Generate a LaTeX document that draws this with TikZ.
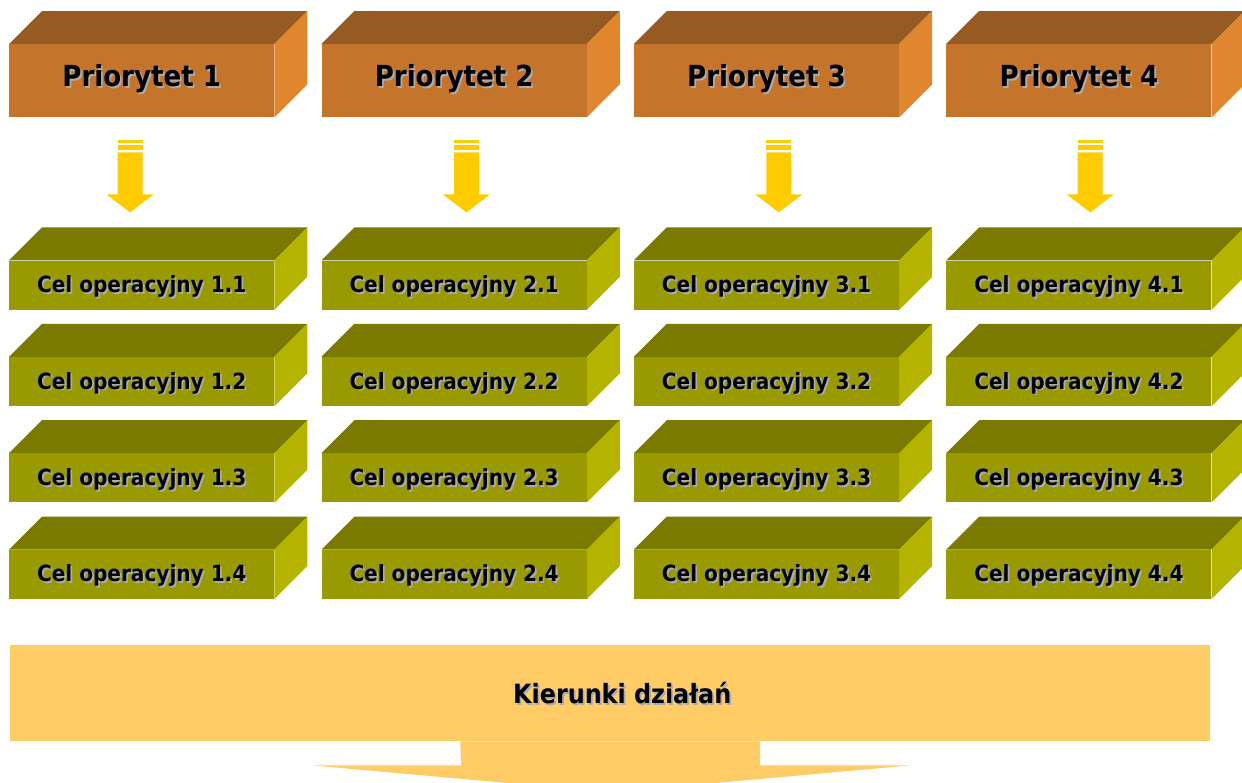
\documentclass[tikz,border=0pt]{standalone}
\usepackage{fontspec}
\usepackage{xcolor}
\usepackage{tikz}
\usetikzlibrary{positioning, calc}

\newfontfamily\boxfont{DejaVu Sans}[FakeStretch=0.9]

\definecolor{prioFront}{HTML}{C5752B}
\definecolor{prioTop}{HTML}{965B22}
\definecolor{prioSide}{HTML}{E0862F}
\definecolor{celFront}{HTML}{999900}
\definecolor{celTop}{HTML}{7A7A00}
\definecolor{celSide}{HTML}{B3B300}
\definecolor{arrowYellow}{HTML}{FFCC00}
\definecolor{kierFill}{HTML}{FFCC66}
\definecolor{shadowGray}{HTML}{ABABAB}

% text with a soft grey shadow
\newcommand{\shadowtxt}[1]{\makebox[0pt][l]{\hspace{1.8pt}\raisebox{-1.8pt}{\textcolor{shadowGray}{#1}}}#1}

\begin{document}
\begin{tikzpicture}[
    x=1pt, y=-1pt,
    cube/.style n args={3}{rectangle, fill=#1, inner sep=0pt, minimum width=265pt,
        append after command={\pgfextra{
            \fill[#2] (\tikzlastnode.north west) -- ([shift={(33,-33)}]\tikzlastnode.north west)
                -- ([shift={(33,-33)}]\tikzlastnode.north east) -- (\tikzlastnode.north east) -- cycle;
            \fill[#3] (\tikzlastnode.north east) -- ([shift={(33,-33)}]\tikzlastnode.north east)
                -- ([shift={(33,-33)}]\tikzlastnode.south east) -- (\tikzlastnode.south east) -- cycle;}}},
    prio/.style={cube={prioFront}{prioTop}{prioSide}, minimum height=73pt, text height=20pt, text depth=9pt,
        font=\boxfont\bfseries\fontsize{29}{29}\selectfont},
    cel/.style={cube={celFront}{celTop}{celSide}, minimum height=49pt, text height=16pt, text depth=1pt,
        font=\boxfont\bfseries\fontsize{22.3}{22.3}\selectfont},
    kier/.style={rectangle, fill=kierFill, inner sep=0pt, minimum width=1200pt, minimum height=96pt},
    kiertext/.style={inner sep=0pt, text height=20pt, text depth=0pt, xshift=12pt,
        font=\boxfont\bfseries\fontsize{26.5}{26.5}\selectfont},
    downarr/.pic={
        \fill[arrowYellow] (-12.5,0) rectangle (12.5,2.7);
        \fill[arrowYellow] (-12.5,5) rectangle (12.5,9.3);
        \fill[arrowYellow] (-12.5,12) -- (12.5,12) -- (12.5,54) -- (23.5,54) -- (0,72)
            -- (-23.5,54) -- (-12.5,54) -- cycle;
    }
]
    \useasboundingbox (0,0) rectangle (1242,782);

    % --- Priorities ---
    \node[prio, anchor=north west] (p1) at (9,44) {\shadowtxt{Priorytet 1}};
    \node[prio, right=47pt of p1] (p2) {\shadowtxt{Priorytet 2}};
    \node[prio, right=47pt of p2] (p3) {\shadowtxt{Priorytet 3}};
    \node[prio, right=47pt of p3] (p4) {\shadowtxt{Priorytet 4}};

    % --- Arrows ---
    \pic at ($(p1.south west)+(121,23)$) {downarr};
    \pic at ($(p2.south west)+(145,23)$) {downarr};
    \pic at ($(p3.south west)+(145,23)$) {downarr};
    \pic at ($(p4.south west)+(144,23)$) {downarr};

    % --- Operational goals ---
    \node[cel, below=143pt of p1] (c11) {\shadowtxt{Cel operacyjny 1.1}};
    \node[cel, below=47pt of c11] (c12) {\shadowtxt{Cel operacyjny 1.2}};
    \node[cel, below=47pt of c12] (c13) {\shadowtxt{Cel operacyjny 1.3}};
    \node[cel, below=47pt of c13] (c14) {\shadowtxt{Cel operacyjny 1.4}};

    \node[cel, below=143pt of p2] (c21) {\shadowtxt{Cel operacyjny 2.1}};
    \node[cel, below=47pt of c21] (c22) {\shadowtxt{Cel operacyjny 2.2}};
    \node[cel, below=47pt of c22] (c23) {\shadowtxt{Cel operacyjny 2.3}};
    \node[cel, below=47pt of c23] (c24) {\shadowtxt{Cel operacyjny 2.4}};

    \node[cel, below=143pt of p3] (c31) {\shadowtxt{Cel operacyjny 3.1}};
    \node[cel, below=47pt of c31] (c32) {\shadowtxt{Cel operacyjny 3.2}};
    \node[cel, below=47pt of c32] (c33) {\shadowtxt{Cel operacyjny 3.3}};
    \node[cel, below=47pt of c33] (c34) {\shadowtxt{Cel operacyjny 3.4}};

    \node[cel, below=143pt of p4] (c41) {\shadowtxt{Cel operacyjny 4.1}};
    \node[cel, below=47pt of c41] (c42) {\shadowtxt{Cel operacyjny 4.2}};
    \node[cel, below=47pt of c42] (c43) {\shadowtxt{Cel operacyjny 4.3}};
    \node[cel, below=47pt of c43] (c44) {\shadowtxt{Cel operacyjny 4.4}};

    % --- Directions of action ---
    \node[kier, anchor=north west, label={[kiertext]center:\shadowtxt{Kierunki działań}}] (kier) at (10,645) {};
    \fill[kierFill] (kier.south) ++(-150,0) -- ++(300,0) -- ++(0,24) -- ++(150,0) -- ++(-299,27)
        -- ++(-299,-27) -- ++(149,0) -- cycle;

\end{tikzpicture}
\end{document}
